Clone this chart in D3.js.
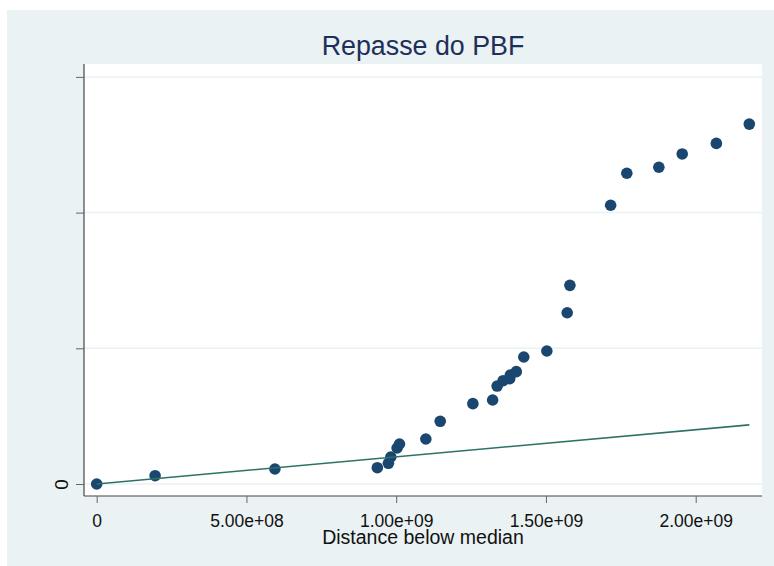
<!DOCTYPE html>
<html>
<head>
<meta charset="utf-8">
<script src="https://cdn.jsdelivr.net/npm/d3@7"></script>
<style>
  body { margin: 0; background: #ffffff; }
  svg { display: block; font-family: "Liberation Sans", Arial, sans-serif; }
</style>
</head>
<body>
<div id="chart"></div>
<script>
// Symmetry plot values (distance below / above median)
const belowMedian = [0, 0.195e9, 0.595e9, 0.937e9, 0.974e9, 0.982e9, 1.003e9, 1.011e9, 1.099e9,
    1.147e9, 1.256e9, 1.322e9, 1.337e9, 1.357e9, 1.379e9, 1.381e9, 1.401e9, 1.426e9, 1.503e9,
    1.571e9, 1.580e9, 1.716e9, 1.770e9, 1.877e9, 1.955e9, 2.069e9, 2.179e9];
const aboveMedian = [0, 0.306e9, 0.553e9, 0.60e9, 0.763e9, 0.995e9, 1.326e9, 1.474e9, 1.658e9,
    2.31e9, 2.96e9, 3.095e9, 3.61e9, 3.806e9, 3.88e9, 4.016e9, 4.14e9, 4.68e9, 4.90e9,
    6.31e9, 7.32e9, 10.27e9, 11.45e9, 11.67e9, 12.16e9, 12.55e9, 13.26e9];
const xTicks = [0, 5e8, 1e9, 1.5e9, 2e9];
const yTicks = [0, 5e9, 1e10, 1.5e10];
const titleText = "Repasse do PBF";
const xTitle = "Distance below median";

const W = 774, H = 566;
const plot = { left: 84, right: 762, top: 64, bottom: 496 };
const fontFam = '"Liberation Sans", Arial, sans-serif';

const svg = d3.select("#chart").append("svg")
    .attr("width", W)
    .attr("height", H);

// outer graph region
svg.append("rect")
    .attr("x", 7).attr("y", 10)
    .attr("width", W - 7).attr("height", H - 10)
    .attr("fill", "#eaf2f3");

// plot region
svg.append("rect")
    .attr("x", plot.left).attr("y", plot.top)
    .attr("width", plot.right - plot.left).attr("height", plot.bottom - plot.top)
    .attr("fill", "#ffffff");

const x = d3.scaleLinear()
    .domain([-0.0424e9, 2.2214e9])
    .range([plot.left, plot.right]);

const y = d3.scaleLinear()
    .domain([-0.442e9, 15.475e9])
    .range([plot.bottom, plot.top]);

// gridlines
svg.append("g")
    .selectAll("line")
    .data(yTicks)
    .enter()
    .append("line")
    .attr("x1", plot.left).attr("x2", plot.right)
    .attr("y1", d => y(d)).attr("y2", d => y(d))
    .attr("stroke", "#eaf2f3")
    .attr("stroke-width", 1.5);

// y axis
const yAxis = svg.append("g")
    .attr("transform", `translate(${plot.left},0)`)
    .call(d3.axisLeft(y).tickValues(yTicks).tickSize(8).tickPadding(8)
        .tickFormat(d => d === 0 ? "0" : ""))
    .attr("font-family", fontFam);
yAxis.select(".domain").attr("stroke", "#222").attr("d", `M0,${plot.top}V${plot.bottom}`);
yAxis.selectAll(".tick line").attr("stroke", "#666");
yAxis.selectAll(".tick text")
    .attr("font-size", 19)
    .attr("fill", "#111")
    .attr("transform", "rotate(-90)")
    .attr("x", 0).attr("y", -16)
    .attr("dy", 0)
    .style("text-anchor", "middle");

// x axis
const xAxis = svg.append("g")
    .attr("transform", `translate(0,${plot.bottom})`)
    .call(d3.axisBottom(x).tickValues(xTicks).tickSize(7).tickPadding(10)
        .tickFormat(d => d === 0 ? "0" : d3.format(".2e")(d).replace(/e([+-])(\d)$/, "e$10$2")))
    .attr("font-family", fontFam);
xAxis.select(".domain").attr("stroke", "#444").attr("d", `M${plot.left},0H${plot.right}`);
xAxis.selectAll(".tick line").attr("stroke", "#666");
xAxis.selectAll(".tick text")
    .attr("font-size", 17.5)
    .attr("fill", "#111")
    .attr("dy", 0)
    .attr("y", 30.5);

// axis title
svg.append("text")
    .attr("x", (plot.left + plot.right) / 2)
    .attr("y", 544)
    .attr("text-anchor", "middle")
    .attr("font-size", 19.5)
    .attr("fill", "#111")
    .text(xTitle);

// chart title
svg.append("text")
    .attr("x", (plot.left + plot.right) / 2)
    .attr("y", 55)
    .attr("text-anchor", "middle")
    .attr("font-size", 26.8)
    .attr("fill", "#1e2f5a")
    .text(titleText);

// points
const pts = belowMedian.map((v, i) => ({ x: v, y: aboveMedian[i] }));
svg.append("g")
    .selectAll("circle")
    .data(pts)
    .enter()
    .append("circle")
    .attr("cx", d => x(d.x))
    .attr("cy", d => y(d.y))
    .attr("r", 5.8)
    .attr("fill", "#1a476f");

// reference line y = x
const lineEnd = d3.max(belowMedian);
svg.append("line")
    .attr("x1", x(0)).attr("y1", y(0))
    .attr("x2", x(lineEnd)).attr("y2", y(lineEnd))
    .attr("stroke", "#2e7266")
    .attr("stroke-width", 1.6);
</script>
</body>
</html>
